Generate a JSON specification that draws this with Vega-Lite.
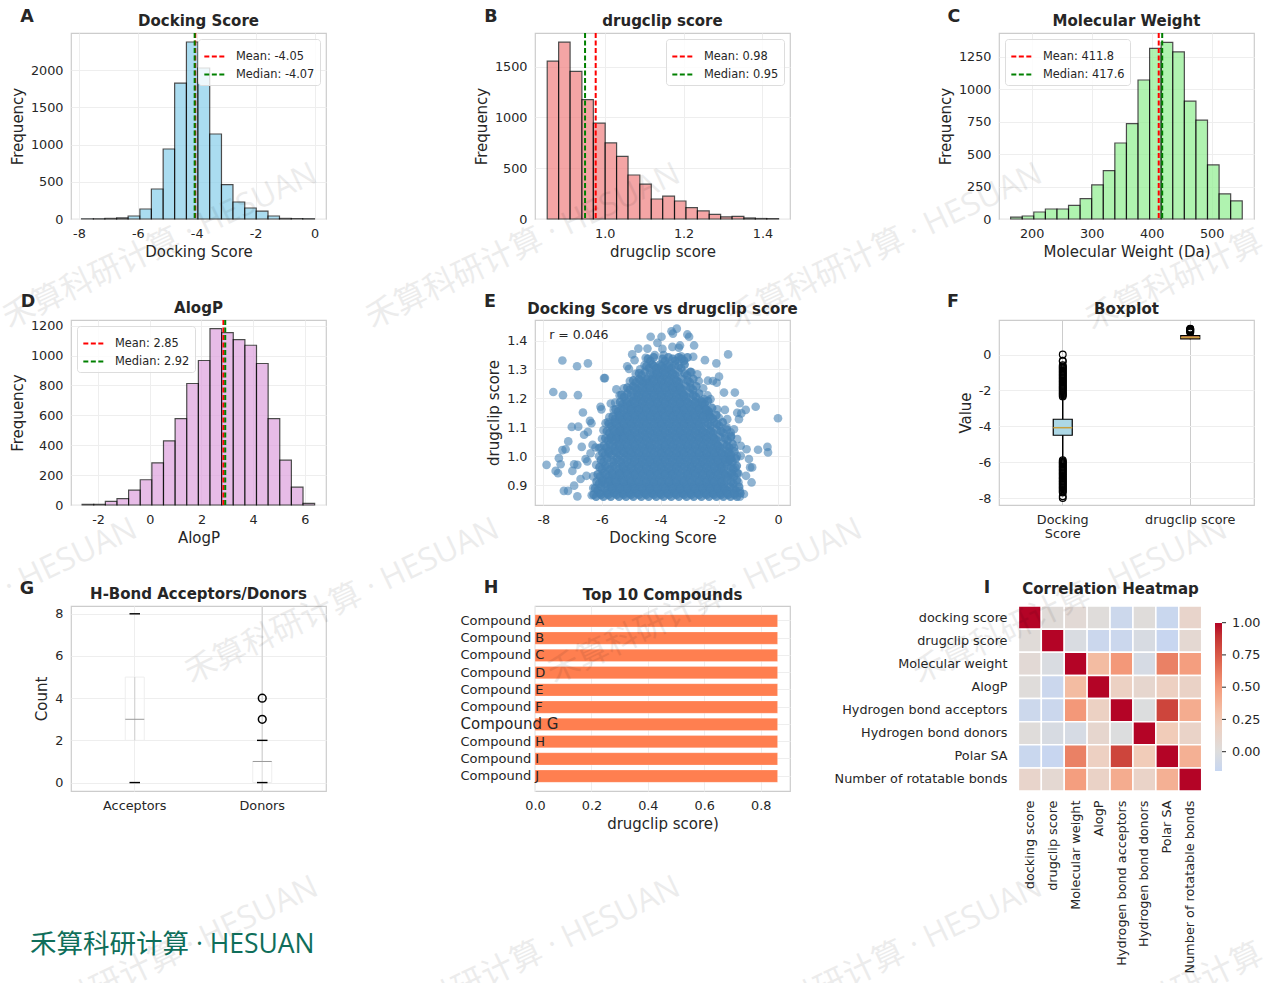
{
  "$schema": "https://vega.github.io/schema/vega-lite/v6.json",
  "background": "white",
  "padding": {"left": -3, "top": 8, "right": 0, "bottom": 0},
  "columns": 3,
  "bounds": "flush",
  "spacing": {"row": 101, "column": 209},
  "config": {
    "font": "DejaVu Sans",
    "view": {"stroke": "#cccccc", "strokeWidth": 1.2},
    "title": {"fontSize": 15, "fontWeight": "bold", "color": "#262626", "offset": 3},
    "axis": {"ticks": false, "domain": false, "gridColor": "#eeeeee", "gridWidth": 1, "labelFontSize": 12.8, "labelColor": "#262626", "titleFontSize": 15, "titleFontWeight": "normal", "titleColor": "#262626", "labelPadding": 8, "titlePadding": 5, "labelAngle": 0, "labelFlush": false, "labelOverlap": false},
    "legend": {"title": null, "orient": "top-right", "offset": 6, "fillColor": "rgba(255,255,255,0.8)", "strokeColor": "#dddddd", "cornerRadius": 3, "padding": 5, "labelFontSize": 11.4, "labelColor": "#262626", "labelOffset": 8, "symbolSize": 500, "symbolStrokeWidth": 2, "symbolDash": [5, 2.5], "rowPadding": -1, "symbolType": "stroke"}
  },
  "datasets": {
    "inner": [
      {"d":-6.2,"s":0.86},{"d":-5.95,"s":0.86},{"d":-5.7,"s":0.86},{"d":-5.42,"s":0.86},{"d":-5.18,"s":0.86},{"d":-4.93,"s":0.86},{"d":-4.66,"s":0.86},{"d":-4.41,"s":0.86},{"d":-4.15,"s":0.86},{"d":-3.9,"s":0.86},{"d":-3.64,"s":0.86},{"d":-3.38,"s":0.86},{"d":-3.12,"s":0.86},{"d":-2.87,"s":0.86},{"d":-2.61,"s":0.86},{"d":-2.35,"s":0.86},{"d":-2.1,"s":0.86},{"d":-1.86,"s":0.86},{"d":-1.62,"s":0.86},{"d":-1.4,"s":0.86},
      {"d":-6.15,"s":0.882},{"d":-5.82,"s":0.882},{"d":-5.56,"s":0.882},{"d":-5.3,"s":0.882},{"d":-5.05,"s":0.882},{"d":-4.8,"s":0.882},{"d":-4.53,"s":0.882},{"d":-4.28,"s":0.882},{"d":-4.02,"s":0.882},{"d":-3.76,"s":0.882},{"d":-3.5,"s":0.882},{"d":-3.25,"s":0.882},{"d":-3,"s":0.882},{"d":-2.74,"s":0.882},{"d":-2.48,"s":0.882},{"d":-2.23,"s":0.882},{"d":-1.98,"s":0.882},{"d":-1.73,"s":0.882},{"d":-1.44,"s":0.882},
      {"d":-6.1,"s":0.905},{"d":-5.9,"s":0.905},{"d":-5.68,"s":0.905},{"d":-5.43,"s":0.905},{"d":-5.17,"s":0.905},{"d":-4.92,"s":0.905},{"d":-4.66,"s":0.905},{"d":-4.4,"s":0.905},{"d":-4.15,"s":0.905},{"d":-3.89,"s":0.905},{"d":-3.63,"s":0.905},{"d":-3.37,"s":0.905},{"d":-3.12,"s":0.905},{"d":-2.86,"s":0.905},{"d":-2.6,"s":0.905},{"d":-2.35,"s":0.905},{"d":-2.09,"s":0.905},{"d":-1.84,"s":0.905},{"d":-1.52,"s":0.905},
      {"d":-6.06,"s":0.93},{"d":-5.78,"s":0.93},{"d":-5.54,"s":0.93},{"d":-5.3,"s":0.93},{"d":-5.04,"s":0.93},{"d":-4.79,"s":0.93},{"d":-4.53,"s":0.93},{"d":-4.27,"s":0.93},{"d":-4.01,"s":0.93},{"d":-3.76,"s":0.93},{"d":-3.51,"s":0.93},{"d":-3.24,"s":0.93},{"d":-2.99,"s":0.93},{"d":-2.73,"s":0.93},{"d":-2.47,"s":0.93},{"d":-2.22,"s":0.93},{"d":-1.96,"s":0.93},{"d":-1.71,"s":0.93},{"d":-1.5,"s":0.93},
      {"d":-6,"s":0.955},{"d":-5.72,"s":0.955},{"d":-5.43,"s":0.955},{"d":-5.18,"s":0.955},{"d":-4.92,"s":0.955},{"d":-4.66,"s":0.955},{"d":-4.4,"s":0.955},{"d":-4.14,"s":0.955},{"d":-3.89,"s":0.955},{"d":-3.63,"s":0.955},{"d":-3.38,"s":0.955},{"d":-3.11,"s":0.955},{"d":-2.86,"s":0.955},{"d":-2.6,"s":0.955},{"d":-2.34,"s":0.955},{"d":-2.08,"s":0.955},{"d":-1.84,"s":0.955},{"d":-1.52,"s":0.955},
      {"d":-5.95,"s":0.98},{"d":-5.6,"s":0.98},{"d":-5.33,"s":0.98},{"d":-5.05,"s":0.98},{"d":-4.79,"s":0.98},{"d":-4.53,"s":0.98},{"d":-4.27,"s":0.98},{"d":-4.02,"s":0.98},{"d":-3.76,"s":0.98},{"d":-3.5,"s":0.98},{"d":-3.25,"s":0.98},{"d":-2.99,"s":0.98},{"d":-2.73,"s":0.98},{"d":-2.47,"s":0.98},{"d":-2.21,"s":0.98},{"d":-1.96,"s":0.98},{"d":-1.71,"s":0.98},{"d":-1.55,"s":0.98},
      {"d":-5.9,"s":1.005},{"d":-5.68,"s":1.005},{"d":-5.42,"s":1.005},{"d":-5.17,"s":1.005},{"d":-4.92,"s":1.005},{"d":-4.66,"s":1.005},{"d":-4.4,"s":1.005},{"d":-4.14,"s":1.005},{"d":-3.89,"s":1.005},{"d":-3.63,"s":1.005},{"d":-3.37,"s":1.005},{"d":-3.12,"s":1.005},{"d":-2.86,"s":1.005},{"d":-2.6,"s":1.005},{"d":-2.34,"s":1.005},{"d":-2.09,"s":1.005},{"d":-1.83,"s":1.005},{"d":-1.6,"s":1.005},
      {"d":-5.85,"s":1.03},{"d":-5.56,"s":1.03},{"d":-5.3,"s":1.03},{"d":-5.04,"s":1.03},{"d":-4.79,"s":1.03},{"d":-4.53,"s":1.03},{"d":-4.28,"s":1.03},{"d":-4.01,"s":1.03},{"d":-3.76,"s":1.03},{"d":-3.5,"s":1.03},{"d":-3.24,"s":1.03},{"d":-2.99,"s":1.03},{"d":-2.73,"s":1.03},{"d":-2.47,"s":1.03},{"d":-2.21,"s":1.03},{"d":-1.96,"s":1.03},{"d":-1.66,"s":1.03},
      {"d":-5.8,"s":1.055},{"d":-5.62,"s":1.055},{"d":-5.42,"s":1.055},{"d":-5.17,"s":1.055},{"d":-4.92,"s":1.055},{"d":-4.66,"s":1.055},{"d":-4.4,"s":1.055},{"d":-4.14,"s":1.055},{"d":-3.89,"s":1.055},{"d":-3.63,"s":1.055},{"d":-3.37,"s":1.055},{"d":-3.12,"s":1.055},{"d":-2.86,"s":1.055},{"d":-2.6,"s":1.055},{"d":-2.34,"s":1.055},{"d":-2.09,"s":1.055},{"d":-1.72,"s":1.055},
      {"d":-5.75,"s":1.08},{"d":-5.5,"s":1.08},{"d":-5.3,"s":1.08},{"d":-5.05,"s":1.08},{"d":-4.79,"s":1.08},{"d":-4.53,"s":1.08},{"d":-4.27,"s":1.08},{"d":-4.02,"s":1.08},{"d":-3.76,"s":1.08},{"d":-3.5,"s":1.08},{"d":-3.25,"s":1.08},{"d":-2.99,"s":1.08},{"d":-2.73,"s":1.08},{"d":-2.47,"s":1.08},{"d":-2.21,"s":1.08},{"d":-1.86,"s":1.08},
      {"d":-5.68,"s":1.105},{"d":-5.42,"s":1.105},{"d":-5.17,"s":1.105},{"d":-4.92,"s":1.105},{"d":-4.66,"s":1.105},{"d":-4.4,"s":1.105},{"d":-4.14,"s":1.105},{"d":-3.89,"s":1.105},{"d":-3.63,"s":1.105},{"d":-3.37,"s":1.105},{"d":-3.12,"s":1.105},{"d":-2.86,"s":1.105},{"d":-2.6,"s":1.105},{"d":-2.3,"s":1.105},{"d":-2,"s":1.105},
      {"d":-5.55,"s":1.13},{"d":-5.3,"s":1.13},{"d":-5.04,"s":1.13},{"d":-4.79,"s":1.13},{"d":-4.53,"s":1.13},{"d":-4.27,"s":1.13},{"d":-4.02,"s":1.13},{"d":-3.76,"s":1.13},{"d":-3.5,"s":1.13},{"d":-3.24,"s":1.13},{"d":-2.99,"s":1.13},{"d":-2.73,"s":1.13},{"d":-2.47,"s":1.13},{"d":-2.22,"s":1.13},
      {"d":-5.45,"s":1.155},{"d":-5.17,"s":1.155},{"d":-4.92,"s":1.155},{"d":-4.66,"s":1.155},{"d":-4.4,"s":1.155},{"d":-4.14,"s":1.155},{"d":-3.89,"s":1.155},{"d":-3.63,"s":1.155},{"d":-3.37,"s":1.155},{"d":-3.12,"s":1.155},{"d":-2.86,"s":1.155},{"d":-2.6,"s":1.155},{"d":-2.36,"s":1.155},
      {"d":-5.3,"s":1.18},{"d":-5.05,"s":1.18},{"d":-4.79,"s":1.18},{"d":-4.53,"s":1.18},{"d":-4.27,"s":1.18},{"d":-4.02,"s":1.18},{"d":-3.76,"s":1.18},{"d":-3.5,"s":1.18},{"d":-3.25,"s":1.18},{"d":-2.99,"s":1.18},{"d":-2.73,"s":1.18},{"d":-2.5,"s":1.18},
      {"d":-5.25,"s":1.205},{"d":-4.92,"s":1.205},{"d":-4.66,"s":1.205},{"d":-4.4,"s":1.205},{"d":-4.14,"s":1.205},{"d":-3.89,"s":1.205},{"d":-3.63,"s":1.205},{"d":-3.37,"s":1.205},{"d":-3.12,"s":1.205},{"d":-2.8,"s":1.205},
      {"d":-5.05,"s":1.23},{"d":-4.79,"s":1.23},{"d":-4.53,"s":1.23},{"d":-4.27,"s":1.23},{"d":-4.02,"s":1.23},{"d":-3.76,"s":1.23},{"d":-3.5,"s":1.23},{"d":-3.25,"s":1.23},{"d":-2.9,"s":1.23},
      {"d":-4.85,"s":1.255},{"d":-4.6,"s":1.255},{"d":-4.4,"s":1.255},{"d":-4.14,"s":1.255},{"d":-3.89,"s":1.255},{"d":-3.63,"s":1.255},{"d":-3.37,"s":1.255},{"d":-3,"s":1.255},
      {"d":-4.65,"s":1.28},{"d":-4.27,"s":1.28},{"d":-4.02,"s":1.28},{"d":-3.76,"s":1.28},{"d":-3.5,"s":1.28},{"d":-3.1,"s":1.28},
      {"d":-4.4,"s":1.305},{"d":-4.14,"s":1.305},{"d":-3.89,"s":1.305},{"d":-3.63,"s":1.305},{"d":-3.3,"s":1.305},
      {"d":-4.35,"s":1.33},{"d":-3.85,"s":1.33},{"d":-3.5,"s":1.33},{"d":-3.2,"s":1.33}
    ]
  },
  "concat": [
    {
      "width": 255, "height": 186,
      "title": "Docking Score",
      "layer": [
        {
          "data": {"values": [
            {"start": -7.91, "end": -7.51, "count": 2}, {"start": -7.51, "end": -7.12, "count": 3}, {"start": -7.12, "end": -6.72, "count": 8}, {"start": -6.72, "end": -6.33, "count": 15}, {"start": -6.33, "end": -5.93, "count": 40},
            {"start": -5.93, "end": -5.54, "count": 134}, {"start": -5.54, "end": -5.14, "count": 403}, {"start": -5.14, "end": -4.75, "count": 940}, {"start": -4.75, "end": -4.35, "count": 1825}, {"start": -4.35, "end": -3.96, "count": 2376},
            {"start": -3.96, "end": -3.56, "count": 2027}, {"start": -3.56, "end": -3.16, "count": 1141}, {"start": -3.16, "end": -2.77, "count": 461}, {"start": -2.77, "end": -2.37, "count": 228}, {"start": -2.37, "end": -1.98, "count": 148},
            {"start": -1.98, "end": -1.58, "count": 107}, {"start": -1.58, "end": -1.19, "count": 40}, {"start": -1.19, "end": -0.79, "count": 8}, {"start": -0.79, "end": -0.4, "count": 5}, {"start": -0.4, "end": 0, "count": 4}
          ]},
          "mark": {"type": "rect", "fill": "#87ceeb", "stroke": "#000000", "strokeWidth": 1.2, "opacity": 0.7},
          "encoding": {
            "x": {"field": "start", "type": "quantitative", "scale": {"domain": [-8.27, 0.39], "nice": false, "zero": false}, "axis": {"values": [-8, -6, -4, -2, 0], "title": "Docking Score", "labelExpr": "'' + datum.value"}},
            "x2": {"field": "end"},
            "y": {"field": "count", "type": "quantitative", "scale": {"domain": [0, 2497], "nice": false}, "axis": {"values": [0, 500, 1000, 1500, 2000], "title": "Frequency", "format": "d"}},
            "y2": {"datum": 0}
          }
        },
        {
          "data": {"values": [{"stat": "Mean: -4.05", "x": -4.05}, {"stat": "Median: -4.07", "x": -4.07}]},
          "mark": {"type": "rule", "strokeDash": [5, 2.5], "strokeWidth": 2},
          "encoding": {
            "x": {"field": "x", "type": "quantitative"},
            "color": {"field": "stat", "type": "nominal", "scale": {"domain": ["Mean: -4.05", "Median: -4.07"], "range": ["#ff0000", "#008000"]}}
          }
        }
      ]
    },
    {
      "width": 255, "height": 186,
      "title": "drugclip score",
      "layer": [
        {
          "data": {"values": [
            {"start": 0.854, "end": 0.883, "count": 1554}, {"start": 0.883, "end": 0.912, "count": 1741}, {"start": 0.912, "end": 0.942, "count": 1452}, {"start": 0.942, "end": 0.971, "count": 1174}, {"start": 0.971, "end": 1.001, "count": 944},
            {"start": 1.001, "end": 1.03, "count": 748}, {"start": 1.03, "end": 1.059, "count": 616}, {"start": 1.059, "end": 1.089, "count": 433}, {"start": 1.089, "end": 1.118, "count": 344}, {"start": 1.118, "end": 1.147, "count": 197},
            {"start": 1.147, "end": 1.177, "count": 226}, {"start": 1.177, "end": 1.206, "count": 177}, {"start": 1.206, "end": 1.235, "count": 111}, {"start": 1.235, "end": 1.265, "count": 79}, {"start": 1.265, "end": 1.294, "count": 46},
            {"start": 1.294, "end": 1.323, "count": 20}, {"start": 1.323, "end": 1.353, "count": 26}, {"start": 1.353, "end": 1.382, "count": 10}, {"start": 1.382, "end": 1.411, "count": 5}, {"start": 1.411, "end": 1.441, "count": 4}
          ]},
          "mark": {"type": "rect", "fill": "#f08080", "stroke": "#000000", "strokeWidth": 1.2, "opacity": 0.7},
          "encoding": {
            "x": {"field": "start", "type": "quantitative", "scale": {"domain": [0.823, 1.47], "nice": false, "zero": false}, "axis": {"values": [1.0, 1.2, 1.4], "format": ".1f", "title": "drugclip score"}},
            "x2": {"field": "end"},
            "y": {"field": "count", "type": "quantitative", "scale": {"domain": [0, 1830], "nice": false}, "axis": {"values": [0, 500, 1000, 1500], "title": "Frequency", "format": "d"}},
            "y2": {"datum": 0}
          }
        },
        {
          "data": {"values": [{"stat": "Mean: 0.98", "x": 0.977}, {"stat": "Median: 0.95", "x": 0.95}]},
          "mark": {"type": "rule", "strokeDash": [5, 2.5], "strokeWidth": 2},
          "encoding": {
            "x": {"field": "x", "type": "quantitative"},
            "color": {"field": "stat", "type": "nominal", "scale": {"domain": ["Mean: 0.98", "Median: 0.95"], "range": ["#ff0000", "#008000"]}}
          }
        }
      ]
    },
    {
      "width": 255, "height": 186,
      "title": "Molecular Weight",
      "layer": [
        {
          "data": {"values": [
            {"start": 165, "end": 184.3, "count": 15}, {"start": 184.3, "end": 203.6, "count": 23}, {"start": 203.6, "end": 222.9, "count": 54}, {"start": 222.9, "end": 242.2, "count": 77}, {"start": 242.2, "end": 261.5, "count": 77},
            {"start": 261.5, "end": 280.8, "count": 105}, {"start": 280.8, "end": 300.1, "count": 157}, {"start": 300.1, "end": 319.4, "count": 262}, {"start": 319.4, "end": 338.7, "count": 372}, {"start": 338.7, "end": 358, "count": 585},
            {"start": 358, "end": 377.3, "count": 734}, {"start": 377.3, "end": 396.6, "count": 1070}, {"start": 396.6, "end": 415.9, "count": 1314}, {"start": 415.9, "end": 435.2, "count": 1360}, {"start": 435.2, "end": 454.5, "count": 1286},
            {"start": 454.5, "end": 473.8, "count": 908}, {"start": 473.8, "end": 493.1, "count": 762}, {"start": 493.1, "end": 512.4, "count": 416}, {"start": 512.4, "end": 531.7, "count": 193}, {"start": 531.7, "end": 551, "count": 139}
          ]},
          "mark": {"type": "rect", "fill": "#90ee90", "stroke": "#000000", "strokeWidth": 1.2, "opacity": 0.7},
          "encoding": {
            "x": {"field": "start", "type": "quantitative", "scale": {"domain": [145.6, 570.6], "nice": false, "zero": false}, "axis": {"values": [200, 300, 400, 500], "title": "Molecular Weight (Da)"}},
            "x2": {"field": "end"},
            "y": {"field": "count", "type": "quantitative", "scale": {"domain": [0, 1432], "nice": false}, "axis": {"values": [0, 250, 500, 750, 1000, 1250], "title": "Frequency", "format": "d"}},
            "y2": {"datum": 0}
          }
        },
        {
          "data": {"values": [{"stat": "Mean: 411.8", "x": 411.8}, {"stat": "Median: 417.6", "x": 417.6}]},
          "mark": {"type": "rule", "strokeDash": [5, 2.5], "strokeWidth": 2},
          "encoding": {
            "x": {"field": "x", "type": "quantitative"},
            "color": {"field": "stat", "type": "nominal", "scale": {"domain": ["Mean: 411.8", "Median: 417.6"], "range": ["#ff0000", "#008000"]}, "legend": {"orient": "top-left"}}
          }
        }
      ]
    },
    {
      "width": 255, "height": 185,
      "title": "AlogP",
      "layer": [
        {
          "data": {"values": [
            {"start": -2.62, "end": -2.17, "count": 4}, {"start": -2.17, "end": -1.72, "count": 4}, {"start": -1.72, "end": -1.27, "count": 24}, {"start": -1.27, "end": -0.82, "count": 42}, {"start": -0.82, "end": -0.37, "count": 100},
            {"start": -0.37, "end": 0.08, "count": 169}, {"start": 0.08, "end": 0.53, "count": 282}, {"start": 0.53, "end": 0.98, "count": 429}, {"start": 0.98, "end": 1.43, "count": 578}, {"start": 1.43, "end": 1.88, "count": 813},
            {"start": 1.88, "end": 2.33, "count": 967}, {"start": 2.33, "end": 2.78, "count": 1180}, {"start": 2.78, "end": 3.23, "count": 1153}, {"start": 3.23, "end": 3.68, "count": 1107}, {"start": 3.68, "end": 4.13, "count": 1069},
            {"start": 4.13, "end": 4.58, "count": 947}, {"start": 4.58, "end": 5.03, "count": 578}, {"start": 5.03, "end": 5.48, "count": 300}, {"start": 5.48, "end": 5.93, "count": 120}, {"start": 5.93, "end": 6.38, "count": 11}
          ]},
          "mark": {"type": "rect", "fill": "#dda0dd", "stroke": "#000000", "strokeWidth": 1.2, "opacity": 0.7},
          "encoding": {
            "x": {"field": "start", "type": "quantitative", "scale": {"domain": [-3.05, 6.82], "nice": false, "zero": false}, "axis": {"values": [-2, 0, 2, 4, 6], "title": "AlogP", "labelExpr": "'' + datum.value"}},
            "x2": {"field": "end"},
            "y": {"field": "count", "type": "quantitative", "scale": {"domain": [0, 1238], "nice": false}, "axis": {"values": [0, 200, 400, 600, 800, 1000, 1200], "title": "Frequency", "format": "d"}},
            "y2": {"datum": 0}
          }
        },
        {
          "data": {"values": [{"stat": "Mean: 2.85", "x": 2.85}, {"stat": "Median: 2.92", "x": 2.92}]},
          "mark": {"type": "rule", "strokeDash": [5, 2.5], "strokeWidth": 2},
          "encoding": {
            "x": {"field": "x", "type": "quantitative"},
            "color": {"field": "stat", "type": "nominal", "scale": {"domain": ["Mean: 2.85", "Median: 2.92"], "range": ["#ff0000", "#008000"]}, "legend": {"orient": "top-left"}}
          }
        }
      ]
    },
    {
      "width": 255, "height": 185,
      "title": "Docking Score vs drugclip score",
      "layer": [
        {
          "data": {"values": [
            {"d":-7.89,"s":0.97},{"d":-7.58,"s":0.949},{"d":-7.5,"s":0.941},{"d":-7.47,"s":0.993},{"d":-7.41,"s":0.972},{"d":-7.35,"s":1.021},{"d":-7.24,"s":1.024},{"d":-7.15,"s":1.051},{"d":-7.03,"s":1.101},{"d":-6.81,"s":1.102},{"d":-6.61,"s":1.074},{"d":-6.48,"s":1.084},{"d":-6.41,"s":1.122},{"d":-6.36,"s":1.114},{"d":-6.65,"s":1.151},{"d":-6.82,"s":1.211},{"d":-7.33,"s":1.211},{"d":-7.66,"s":1.222},{"d":-7.35,"s":1.331},{"d":-6.85,"s":1.311},{"d":-6.48,"s":1.321},{"d":-5.93,"s":1.27},{"d":-5.9,"s":1.27},{"d":-6.05,"s":1.171},{"d":-6.02,"s":1.162},{"d":-5.7,"s":1.182},{"d":-5.51,"s":1.231},{"d":-7.3,"s":0.88},{"d":-7.16,"s":0.88},{"d":-6.84,"s":0.861},{"d":-6.95,"s":0.898},{"d":-6.73,"s":0.921},{"d":-6.95,"s":0.972},{"d":-6.84,"s":0.97},{"d":-7.01,"s":0.949},{"d":-6.56,"s":0.99},{"d":-6.69,"s":1.032},{"d":-6.32,"s":1.039},{"d":-6.39,"s":1.01},{"d":-6.5,"s":0.982},{"d":-6.53,"s":0.932},{"d":-6.22,"s":1.03},{"d":-6.1,"s":1.028},{"d":-5.88,"s":1.114},{"d":-5.8,"s":1.118},
            {"d":-5.14,"s":1.311},{"d":-5.08,"s":1.302},{"d":-4.97,"s":1.352},{"d":-4.89,"s":1.332},{"d":-4.76,"s":1.372},{"d":-4.51,"s":1.34},{"d":-4.45,"s":1.372},{"d":-4.34,"s":1.413},{"d":-3.97,"s":1.413},{"d":-4.11,"s":1.392},{"d":-3.94,"s":1.371},{"d":-3.6,"s":1.378},{"d":-3.58,"s":1.424},{"d":-3.45,"s":1.441},{"d":-3.63,"s":1.432},{"d":-3.09,"s":1.421},{"d":-3.03,"s":1.413},{"d":-3.34,"s":1.383},{"d":-3.38,"s":1.375},{"d":-2.86,"s":1.383},{"d":-2.89,"s":1.344},{"d":-2.49,"s":1.332},{"d":-2.1,"s":1.321},{"d":-1.7,"s":1.352},{"d":-2.75,"s":1.283},{"d":-2.39,"s":1.261},{"d":-2.01,"s":1.275},{"d":-2.22,"s":1.26},{"d":-2.09,"s":1.254},{"d":-1.84,"s":1.22},{"d":-1.47,"s":1.22},{"d":-1.3,"s":1.183},{"d":-0.76,"s":1.171},{"d":-1.1,"s":1.16},{"d":-1.39,"s":1.15},{"d":-1.25,"s":1.148},{"d":-1.33,"s":1.128},{"d":0,"s":1.131},{"d":-0.36,"s":1.032},{"d":-0.34,"s":1.013},{"d":-0.68,"s":1.022},{"d":-0.95,"s":0.961},{"d":-0.88,"s":0.961},{"d":-1.07,"s":1.024},{"d":-0.99,"s":0.99},{"d":-1.27,"s":1.001},{"d":-1.16,"s":0.869},{"d":-0.9,"s":0.909},{"d":-1.09,"s":0.932},{"d":-1.81,"s":1.16},{"d":-2.07,"s":1.162},{"d":-2.3,"s":1.197},{"d":-2.52,"s":1.197},{"d":-2.35,"s":1.151},{"d":-2.01,"s":1.133},{"d":-1.73,"s":1.128},{"d":-1.5,"s":1.093},{"d":-1.61,"s":1.082},{"d":-1.39,"s":1.059},{"d":-1.27,"s":1.036},
            {"d":-4.7,"s":1.3},{"d":-4.85,"s":1.285},{"d":-4.55,"s":1.315},{"d":-2.95,"s":1.29},{"d":-5.05,"s":1.26},{"d":-5.25,"s":1.235},{"d":-5.4,"s":1.21},{"d":-5.55,"s":1.185},{"d":-5.6,"s":1.16},{"d":-5.75,"s":1.135},{"d":-2.4,"s":1.21},{"d":-2.55,"s":1.235},{"d":-2.7,"s":1.26},{"d":-1.4,"s":1.0},{"d":-1.45,"s":0.96},{"d":-1.5,"s":1.03},{"d":-1.6,"s":1.07},{"d":-1.75,"s":1.1},{"d":-6.1,"s":1.0},{"d":-6.05,"s":1.03},{"d":-6.0,"s":1.06},{"d":-5.95,"s":1.09},{"d":-6.2,"s":0.97},{"d":-6.3,"s":0.93},{"d":-6.3,"s":0.89},{"d":-6.35,"s":0.865},{"d":-1.3,"s":0.88},{"d":-1.3,"s":0.86},{"d":-1.35,"s":0.91},{"d":-1.35,"s":0.94},{"d":-4.2,"s":1.35},{"d":-3.9,"s":1.35},{"d":-3.3,"s":1.345}
          ]},
          "mark": {"type": "circle", "color": "#4682b4", "opacity": 0.6, "size": 75},
          "encoding": {
            "x": {"field": "d", "type": "quantitative", "scale": {"domain": [-8.284, 0.41], "nice": false, "zero": false}, "axis": {"values": [-8, -6, -4, -2, 0], "title": "Docking Score", "labelExpr": "'' + datum.value"}},
            "y": {"field": "s", "type": "quantitative", "scale": {"domain": [0.831, 1.471], "nice": false, "zero": false}, "axis": {"values": [0.9, 1.0, 1.1, 1.2, 1.3, 1.4], "format": ".1f", "title": "drugclip score", "tickCount": 10}}
          }
        },
        {
          "data": {"name": "inner"},
          "mark": {"type": "circle", "color": "#4682b4", "opacity": 0.8, "size": 75},
          "encoding": {"x": {"field": "d", "type": "quantitative"}, "y": {"field": "s", "type": "quantitative"}}
        },
        {
          "data": {"name": "inner"},
          "mark": {"type": "circle", "color": "#4682b4", "opacity": 0.8, "size": 75, "xOffset": 3.4, "yOffset": -3.4},
          "encoding": {"x": {"field": "d", "type": "quantitative"}, "y": {"field": "s", "type": "quantitative"}}
        },
        {
          "data": {"name": "inner"},
          "mark": {"type": "circle", "color": "#4682b4", "opacity": 0.8, "size": 75, "xOffset": -2.5, "yOffset": -2},
          "encoding": {"x": {"field": "d", "type": "quantitative"}, "y": {"field": "s", "type": "quantitative"}}
        },
        {
          "data": {"values": [{"x": -7.9, "x2": -5.75, "y": 1.395, "y2": 1.445}]},
          "mark": {"type": "rect", "fill": "white", "opacity": 0.8},
          "encoding": {"x": {"field": "x", "type": "quantitative"}, "x2": {"field": "x2"}, "y": {"field": "y", "type": "quantitative"}, "y2": {"field": "y2"}}
        },
        {
          "data": {"values": [{"x": -7.8, "y": 1.418, "text": "r = 0.046"}]},
          "mark": {"type": "text", "align": "left", "fontSize": 12.5, "color": "#262626"},
          "encoding": {"x": {"field": "x", "type": "quantitative"}, "y": {"field": "y", "type": "quantitative"}, "text": {"field": "text"}}
        }
      ]
    },
    {
      "width": 255, "height": 185,
      "title": "Boxplot",
      "layer": [
        {
          "data": {"values": [
            {"name": "Docking Score", "lo": -5.85, "hi": -2.3},
            {"name": "drugclip score", "lo": 0.85, "hi": 1.22}
          ]},
          "mark": {"type": "rule", "color": "#000000", "strokeWidth": 1.5},
          "encoding": {
            "x": {"field": "name", "type": "nominal", "scale": {"domain": ["Docking Score", "drugclip score"]}, "axis": {"title": null, "grid": true, "gridColor": "#cccccc", "labelExpr": "datum.value == 'Docking Score' ? ['Docking', 'Score'] : datum.value"}},
            "y": {"field": "lo", "type": "quantitative", "scale": {"domain": [-8.37, 1.92], "nice": false, "zero": false}, "axis": {"values": [-8, -6, -4, -2, 0], "title": "Value", "labelExpr": "'' + datum.value"}},
            "y2": {"field": "hi"}
          }
        },
        {
          "data": {"values": [
            {"name": "Docking Score", "v": -7.98}, {"name": "Docking Score", "v": -7.88}, {"name": "Docking Score", "v": -7.68}, {"name": "Docking Score", "v": -7.62}, {"name": "Docking Score", "v": -7.57}, {"name": "Docking Score", "v": -7.5}, {"name": "Docking Score", "v": -7.44}, {"name": "Docking Score", "v": -7.38}, {"name": "Docking Score", "v": -7.33}, {"name": "Docking Score", "v": -7.26}, {"name": "Docking Score", "v": -7.2}, {"name": "Docking Score", "v": -7.15}, {"name": "Docking Score", "v": -7.08}, {"name": "Docking Score", "v": -7.03}, {"name": "Docking Score", "v": -6.96}, {"name": "Docking Score", "v": -6.9}, {"name": "Docking Score", "v": -6.85}, {"name": "Docking Score", "v": -6.78}, {"name": "Docking Score", "v": -6.72}, {"name": "Docking Score", "v": -6.66}, {"name": "Docking Score", "v": -6.6}, {"name": "Docking Score", "v": -6.55}, {"name": "Docking Score", "v": -6.48}, {"name": "Docking Score", "v": -6.42}, {"name": "Docking Score", "v": -6.37}, {"name": "Docking Score", "v": -6.3}, {"name": "Docking Score", "v": -6.24}, {"name": "Docking Score", "v": -6.18}, {"name": "Docking Score", "v": -6.12}, {"name": "Docking Score", "v": -6.06}, {"name": "Docking Score", "v": -6}, {"name": "Docking Score", "v": -5.95}, {"name": "Docking Score", "v": -5.88},
            {"name": "Docking Score", "v": -2.33}, {"name": "Docking Score", "v": -2.27}, {"name": "Docking Score", "v": -2.21}, {"name": "Docking Score", "v": -2.16}, {"name": "Docking Score", "v": -2.1}, {"name": "Docking Score", "v": -2.04}, {"name": "Docking Score", "v": -1.98}, {"name": "Docking Score", "v": -1.92}, {"name": "Docking Score", "v": -1.86}, {"name": "Docking Score", "v": -1.8}, {"name": "Docking Score", "v": -1.75}, {"name": "Docking Score", "v": -1.68}, {"name": "Docking Score", "v": -1.62}, {"name": "Docking Score", "v": -1.56}, {"name": "Docking Score", "v": -1.5}, {"name": "Docking Score", "v": -1.45}, {"name": "Docking Score", "v": -1.38}, {"name": "Docking Score", "v": -1.32}, {"name": "Docking Score", "v": -1.26}, {"name": "Docking Score", "v": -1.2}, {"name": "Docking Score", "v": -1.14}, {"name": "Docking Score", "v": -1.08}, {"name": "Docking Score", "v": -1.02}, {"name": "Docking Score", "v": -0.96}, {"name": "Docking Score", "v": -0.9}, {"name": "Docking Score", "v": -0.84}, {"name": "Docking Score", "v": -0.78}, {"name": "Docking Score", "v": -0.72}, {"name": "Docking Score", "v": -0.66}, {"name": "Docking Score", "v": -0.6}, {"name": "Docking Score", "v": -0.38}, {"name": "Docking Score", "v": -0.34}, {"name": "Docking Score", "v": 0},
            {"name": "drugclip score", "v": 1.22}, {"name": "drugclip score", "v": 1.26}, {"name": "drugclip score", "v": 1.3}, {"name": "drugclip score", "v": 1.33}, {"name": "drugclip score", "v": 1.36}, {"name": "drugclip score", "v": 1.39}, {"name": "drugclip score", "v": 1.42}, {"name": "drugclip score", "v": 1.44}
          ]},
          "mark": {"type": "point", "filled": false, "stroke": "#000000", "strokeWidth": 1.2, "size": 45, "opacity": 1},
          "encoding": {"x": {"field": "name", "type": "nominal"}, "y": {"field": "v", "type": "quantitative"}}
        },
        {
          "data": {"values": [
            {"name": "Docking Score", "q1": -4.49, "q3": -3.6},
            {"name": "drugclip score", "q1": 0.87, "q3": 1.05}
          ]},
          "mark": {"type": "bar", "size": 19, "stroke": "#000000", "strokeWidth": 1.2},
          "encoding": {
            "x": {"field": "name", "type": "nominal"},
            "y": {"field": "q1", "type": "quantitative"},
            "y2": {"field": "q3"},
            "fill": {"field": "name", "type": "nominal", "scale": {"domain": ["Docking Score", "drugclip score"], "range": ["#add8e6", "#e08060"]}, "legend": null}
          }
        },
        {
          "data": {"values": [{"name": "Docking Score", "m": -4.07}, {"name": "drugclip score", "m": 0.95}]},
          "mark": {"type": "tick", "size": 19, "thickness": 1.5, "color": "#c8a040", "opacity": 1},
          "encoding": {"x": {"field": "name", "type": "nominal"}, "y": {"field": "m", "type": "quantitative"}}
        }
      ]
    },
    {
      "width": 255, "height": 185,
      "title": "H-Bond Acceptors/Donors",
      "layer": [
        {
          "data": {"values": [{"name": "Donors"}]},
          "mark": {"type": "rule", "color": "#d8d8d8", "strokeWidth": 1.5},
          "encoding": {
            "x": {"field": "name", "type": "nominal", "scale": {"domain": ["Acceptors", "Donors"]}, "axis": {"title": null, "grid": true, "gridColor": "#eeeeee"}}
          }
        },
        {
          "data": {"values": [{"name": "Acceptors", "q1": 2, "q3": 5}, {"name": "Donors", "q1": 0, "q3": 1}]},
          "mark": {"type": "bar", "size": 19, "fill": "#ffffff", "fillOpacity": 0.4, "stroke": "#eeeeee", "strokeWidth": 1},
          "encoding": {
            "x": {"field": "name", "type": "nominal"},
            "y": {"field": "q1", "type": "quantitative", "scale": {"domain": [-0.4, 8.37], "nice": false, "zero": false}, "axis": {"values": [0, 2, 4, 6, 8], "title": "Count"}},
            "y2": {"field": "q3"}
          }
        },
        {
          "data": {"values": [{"name": "Acceptors", "q1": 2, "q3": 5}]},
          "mark": {"type": "rule", "color": "#cccccc", "strokeWidth": 1},
          "encoding": {"x": {"field": "name", "type": "nominal"}, "y": {"field": "q1", "type": "quantitative"}, "y2": {"field": "q3"}}
        },
        {
          "data": {"values": [{"name": "Acceptors", "m": 3}, {"name": "Donors", "m": 1}]},
          "mark": {"type": "tick", "size": 19, "thickness": 1, "color": "#999999", "opacity": 1},
          "encoding": {"x": {"field": "name", "type": "nominal"}, "y": {"field": "m", "type": "quantitative"}}
        },
        {
          "data": {"values": [{"name": "Acceptors", "cap": 0}, {"name": "Acceptors", "cap": 8}, {"name": "Donors", "cap": 0}, {"name": "Donors", "cap": 2}]},
          "mark": {"type": "tick", "size": 10.5, "thickness": 1.4, "color": "#000000", "opacity": 1},
          "encoding": {"x": {"field": "name", "type": "nominal"}, "y": {"field": "cap", "type": "quantitative"}}
        },
        {
          "data": {"values": [{"name": "Donors", "v": 3}, {"name": "Donors", "v": 4}]},
          "mark": {"type": "point", "filled": false, "stroke": "#000000", "strokeWidth": 1.5, "size": 60, "opacity": 1},
          "encoding": {"x": {"field": "name", "type": "nominal"}, "y": {"field": "v", "type": "quantitative"}}
        }
      ]
    },
    {
      "width": 255, "height": 185,
      "title": "Top 10 Compounds",
      "data": {"values": [
        {"name": "Compound A", "score": 0.86}, {"name": "Compound B", "score": 0.86}, {"name": "Compound C", "score": 0.86}, {"name": "Compound D", "score": 0.86}, {"name": "Compound E", "score": 0.86},
        {"name": "Compound F", "score": 0.86}, {"name": "Compound G", "score": 0.86}, {"name": "Compound H", "score": 0.86}, {"name": "Compound I", "score": 0.86}, {"name": "Compound J", "score": 0.86}
      ]},
      "encoding": {
        "y": {"field": "name", "type": "nominal", "sort": null, "scale": {"paddingInner": 0.28, "paddingOuter": 0.5}, "axis": {"title": null, "labels": false, "grid": true}}
      },
      "layer": [
        {
          "mark": {"type": "bar", "fill": "#ff7f50", "stroke": "#ffffff", "strokeOpacity": 0.25},
          "encoding": {
            "x": {"field": "score", "type": "quantitative", "scale": {"domain": [0, 0.904], "nice": false}, "axis": {"values": [0, 0.2, 0.4, 0.6, 0.8], "format": ".1f", "title": "drugclip score)"}}
          }
        },
        {
          "mark": {"type": "text", "align": "left", "color": "#262626"},
          "encoding": {
            "x": {"datum": -0.264},
            "text": {"field": "name"},
            "size": {"condition": {"test": "datum.name == 'Compound G'", "value": 15}, "value": 13}
          }
        }
      ]
    },
    {
      "width": 255, "height": 185,
      "title": {"text": "Correlation Heatmap", "dx": -16, "offset": 8},
      "view": {"stroke": null},
      "data": {"values": [
        {"a":"docking score","b":"docking score","r":1},{"a":"docking score","b":"drugclip score","r":0.03},{"a":"docking score","b":"Molecular weight","r":0.05},{"a":"docking score","b":"AlogP","r":0.02},{"a":"docking score","b":"Hydrogen bond acceptors","r":-0.11},{"a":"docking score","b":"Hydrogen bond donors","r":0.02},{"a":"docking score","b":"Polar SA","r":-0.13},{"a":"docking score","b":"Number of rotatable bonds","r":0.12},
        {"a":"drugclip score","b":"docking score","r":0.03},{"a":"drugclip score","b":"drugclip score","r":1},{"a":"drugclip score","b":"Molecular weight","r":-0.03},{"a":"drugclip score","b":"AlogP","r":-0.12},{"a":"drugclip score","b":"Hydrogen bond acceptors","r":-0.12},{"a":"drugclip score","b":"Hydrogen bond donors","r":-0.04},{"a":"drugclip score","b":"Polar SA","r":-0.14},{"a":"drugclip score","b":"Number of rotatable bonds","r":0.07},
        {"a":"Molecular weight","b":"docking score","r":0.05},{"a":"Molecular weight","b":"drugclip score","r":-0.03},{"a":"Molecular weight","b":"Molecular weight","r":1},{"a":"Molecular weight","b":"AlogP","r":0.33},{"a":"Molecular weight","b":"Hydrogen bond acceptors","r":0.51},{"a":"Molecular weight","b":"Hydrogen bond donors","r":-0.05},{"a":"Molecular weight","b":"Polar SA","r":0.6},{"a":"Molecular weight","b":"Number of rotatable bonds","r":0.48},
        {"a":"AlogP","b":"docking score","r":0.02},{"a":"AlogP","b":"drugclip score","r":-0.12},{"a":"AlogP","b":"Molecular weight","r":0.33},{"a":"AlogP","b":"AlogP","r":1},{"a":"AlogP","b":"Hydrogen bond acceptors","r":0.17},{"a":"AlogP","b":"Hydrogen bond donors","r":0.1},{"a":"AlogP","b":"Polar SA","r":0.18},{"a":"AlogP","b":"Number of rotatable bonds","r":0.15},
        {"a":"Hydrogen bond acceptors","b":"docking score","r":-0.11},{"a":"Hydrogen bond acceptors","b":"drugclip score","r":-0.12},{"a":"Hydrogen bond acceptors","b":"Molecular weight","r":0.51},{"a":"Hydrogen bond acceptors","b":"AlogP","r":0.17},{"a":"Hydrogen bond acceptors","b":"Hydrogen bond acceptors","r":1},{"a":"Hydrogen bond acceptors","b":"Hydrogen bond donors","r":-0.01},{"a":"Hydrogen bond acceptors","b":"Polar SA","r":0.83},{"a":"Hydrogen bond acceptors","b":"Number of rotatable bonds","r":0.41},
        {"a":"Hydrogen bond donors","b":"docking score","r":0.02},{"a":"Hydrogen bond donors","b":"drugclip score","r":-0.04},{"a":"Hydrogen bond donors","b":"Molecular weight","r":-0.05},{"a":"Hydrogen bond donors","b":"AlogP","r":0.1},{"a":"Hydrogen bond donors","b":"Hydrogen bond acceptors","r":-0.01},{"a":"Hydrogen bond donors","b":"Hydrogen bond donors","r":1},{"a":"Hydrogen bond donors","b":"Polar SA","r":0.24},{"a":"Hydrogen bond donors","b":"Number of rotatable bonds","r":0.14},
        {"a":"Polar SA","b":"docking score","r":-0.13},{"a":"Polar SA","b":"drugclip score","r":-0.14},{"a":"Polar SA","b":"Molecular weight","r":0.6},{"a":"Polar SA","b":"AlogP","r":0.18},{"a":"Polar SA","b":"Hydrogen bond acceptors","r":0.83},{"a":"Polar SA","b":"Hydrogen bond donors","r":0.24},{"a":"Polar SA","b":"Polar SA","r":1},{"a":"Polar SA","b":"Number of rotatable bonds","r":0.39},
        {"a":"Number of rotatable bonds","b":"docking score","r":0.12},{"a":"Number of rotatable bonds","b":"drugclip score","r":0.07},{"a":"Number of rotatable bonds","b":"Molecular weight","r":0.48},{"a":"Number of rotatable bonds","b":"AlogP","r":0.15},{"a":"Number of rotatable bonds","b":"Hydrogen bond acceptors","r":0.41},{"a":"Number of rotatable bonds","b":"Hydrogen bond donors","r":0.14},{"a":"Number of rotatable bonds","b":"Polar SA","r":0.39},{"a":"Number of rotatable bonds","b":"Number of rotatable bonds","r":1}
      ]},
      "mark": {"type": "rect", "stroke": "#ffffff", "strokeWidth": 1.5},
      "encoding": {
        "x": {"field": "b", "type": "nominal", "scale": {"domain": ["docking score", "drugclip score", "Molecular weight", "AlogP", "Hydrogen bond acceptors", "Hydrogen bond donors", "Polar SA", "Number of rotatable bonds"], "range": [19.4, 202.7], "padding": 0}, "axis": {"title": null, "grid": false, "labelAngle": 270, "labelLimit": 300, "labelPadding": 9}},
        "y": {"field": "a", "type": "nominal", "scale": {"domain": ["docking score", "drugclip score", "Molecular weight", "AlogP", "Hydrogen bond acceptors", "Hydrogen bond donors", "Polar SA", "Number of rotatable bonds"], "padding": 0}, "axis": {"title": null, "grid": false, "labelLimit": 300, "offset": -14, "labelPadding": 6}},
        "color": {"field": "r", "type": "quantitative", "scale": {"domain": [-0.15, 0, 0.25, 0.5, 0.75, 1], "range": ["#c6d6f1", "#dddddd", "#f2cbb7", "#f49a7b", "#d95847", "#b40426"]}, "legend": {"orient": "none", "legendX": 216, "legendY": 17, "gradientLength": 148, "gradientThickness": 7, "values": [0, 0.25, 0.5, 0.75], "format": ".2f", "fillColor": "transparent", "strokeColor": "transparent", "padding": 0, "labelFontSize": 12.8, "labelOffset": 10, "gradientStrokeWidth": 0}}
      }
    },
    {
      "width": 255, "height": 91,
      "view": {"stroke": null},
      "encoding": {
        "x": {"field": "px", "type": "quantitative", "scale": {"domain": [71, 326], "nice": false, "zero": false}, "axis": null},
        "y": {"field": "py", "type": "quantitative", "scale": {"domain": [892, 983], "nice": false, "zero": false, "reverse": true}, "axis": null}
      },
      "layer": [
        {
          "data": {"values": [
            {"label": "禾算科研计算 · HESUAN", "px": 315, "py": 172}, {"label": "禾算科研计算 · HESUAN", "px": 678, "py": 172}, {"label": "禾算科研计算 · HESUAN", "px": 1040, "py": 172}, {"label": "禾算科研计算", "px": 1261, "py": 239},
            {"label": "· HESUAN", "px": 135, "py": 527}, {"label": "禾算科研计算 · HESUAN", "px": 497, "py": 527}, {"label": "禾算科研计算 · HESUAN", "px": 860, "py": 527}, {"label": "禾算科研计算 · HESUAN", "px": 1225, "py": 527},
            {"label": "科研计算 · HESUAN", "px": 316, "py": 885}, {"label": "科研计算 · HESUAN", "px": 678, "py": 885}, {"label": "科研计算 · HESUAN", "px": 1040, "py": 885}, {"label": "禾算科研计算", "px": 1261, "py": 952}
          ]},
          "mark": {"type": "text", "font": "Open Sans, Noto Sans CJK SC", "fontSize": 32, "angle": -25.5, "align": "right", "baseline": "middle", "color": "#000000", "opacity": 0.07},
          "encoding": {"text": {"field": "label"}}
        },
        {
          "data": {"values": [
            {"label": "A", "px": 27, "py": 17}, {"label": "B", "px": 491, "py": 17}, {"label": "C", "px": 954, "py": 17},
            {"label": "D", "px": 28, "py": 302}, {"label": "E", "px": 490, "py": 302}, {"label": "F", "px": 953, "py": 302},
            {"label": "G", "px": 27, "py": 589}, {"label": "H", "px": 491, "py": 588}, {"label": "I", "px": 987, "py": 588}
          ]},
          "mark": {"type": "text", "fontSize": 17.5, "fontWeight": "bold", "color": "#262626", "baseline": "middle"},
          "encoding": {"text": {"field": "label"}}
        },
        {
          "data": {"values": [{"label": "禾算科研计算 · HESUAN", "px": 30, "py": 945}]},
          "mark": {"type": "text", "font": "Open Sans, Noto Sans CJK SC", "fontSize": 26.5, "align": "left", "baseline": "middle", "color": "#0f6e5a"},
          "encoding": {"text": {"field": "label"}}
        },
        {
          "data": {"values": [{"px": 1222, "px2": 1226, "py": 622.7}, {"px": 1222, "px2": 1226, "py": 654.9}, {"px": 1222, "px2": 1226, "py": 687.2}, {"px": 1222, "px2": 1226, "py": 719.4}, {"px": 1222, "px2": 1226, "py": 751.7}]},
          "mark": {"type": "rule", "color": "#262626", "strokeWidth": 1},
          "encoding": {"x2": {"field": "px2"}}
        },
        {
          "data": {"values": [{"label": "1.00", "px": 1232, "py": 622.7}]},
          "mark": {"type": "text", "fontSize": 12.8, "align": "left", "baseline": "middle", "color": "#262626"},
          "encoding": {"text": {"field": "label"}}
        }
      ]
    }
  ]
}
